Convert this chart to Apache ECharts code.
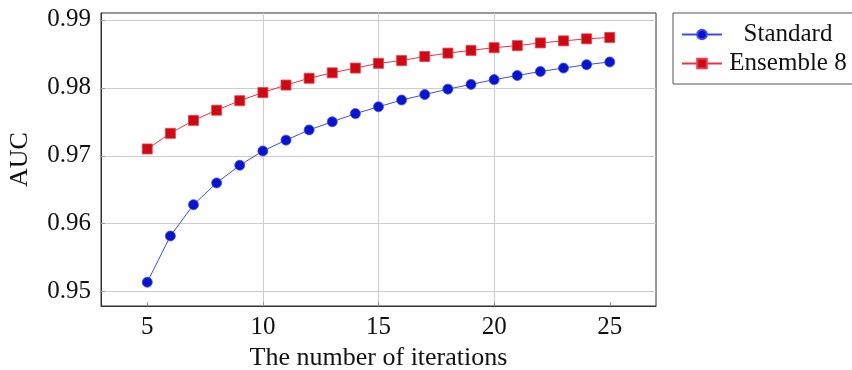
<!DOCTYPE html>
<html>
<head>
<meta charset="utf-8">
<script src="https://cdn.jsdelivr.net/npm/echarts@6/dist/echarts.min.js"></script>
<style>
  html, body { margin: 0; padding: 0; background: #fff; }
  #chart { width: 852px; height: 370px; }
</style>
</head>
<body>
<div id="chart"></div>
<script>
// iterations on the x axis
const iterations = [5, 6, 7, 8, 9, 10, 11, 12, 13, 14, 15, 16, 17, 18, 19, 20, 21, 22, 23, 24, 25];
const standardAuc = [0.9514, 0.9582, 0.9628, 0.9660, 0.9686, 0.9707, 0.9723, 0.9738, 0.9750, 0.9762, 0.9772,
                     0.9782, 0.9790, 0.9798, 0.9805, 0.9812, 0.9818, 0.9824, 0.9829, 0.9834, 0.9838];
const ensembleAuc = [0.9710, 0.9733, 0.9752, 0.9767, 0.9781, 0.9793, 0.9804, 0.9814, 0.9822, 0.9829, 0.9836,
                     0.9840, 0.9846, 0.9851, 0.9855, 0.9859, 0.9862, 0.9866, 0.9869, 0.9872, 0.9874];
const xTicks = [5, 10, 15, 20, 25];
const yTicks = [0.95, 0.96, 0.97, 0.98, 0.99];

const font = 'Liberation Serif';

const pairs = (xs, ys) => xs.map((x, i) => [x, ys[i]]);

const chart = echarts.init(document.getElementById('chart'), null, { renderer: 'canvas' });

chart.setOption({
  animation: false,
  backgroundColor: '#fff',
  grid: {
    left: 101, top: 13, right: 196, bottom: 64,
    containLabel: false,
    outerBoundsMode: 'none',
    show: true, borderColor: '#333', borderWidth: 1, backgroundColor: 'transparent'
  },
  xAxis: {
    type: 'value',
    min: 3, max: 27, interval: 1,
    name: 'The number of iterations',
    nameLocation: 'middle',
    nameGap: 38,
    nameTextStyle: { fontFamily: font, fontSize: 26, color: '#111' },
    axisLine: { show: true, onZero: false, lineStyle: { color: '#333', width: 1 } },
    axisTick: { show: true, inside: true, length: 4, lineStyle: { color: '#999' },
                customValues: xTicks },
    axisLabel: { fontFamily: font, fontSize: 25, color: '#111', margin: 9,
                 customValues: xTicks },
    splitLine: { show: true, lineStyle: { color: '#cccccc', width: 1 } ,
                 showMinLine: false, showMaxLine: false },
    minorSplitLine: { show: false }
  },
  yAxis: {
    type: 'value',
    min: 0.9479, max: 0.9910,
    name: 'AUC',
    nameLocation: 'middle',
    nameGap: 68,
    nameTextStyle: { fontFamily: font, fontSize: 26, color: '#111' },
    axisLine: { show: true, onZero: false, lineStyle: { color: '#333', width: 1 } },
    axisTick: { show: true, inside: true, length: 4, lineStyle: { color: '#999' },
                customValues: yTicks },
    axisLabel: { fontFamily: font, fontSize: 25, color: '#111', margin: 10,
                 customValues: yTicks, formatter: v => v.toFixed(2) },
    splitLine: { show: true, lineStyle: { color: '#cccccc', width: 1 } }
  },
  legend: {
    orient: 'vertical',
    left: 673, top: 13,
    padding: [9, 4, 8, 8],
    itemGap: 4,
    itemWidth: 40, itemHeight: 12,
    borderColor: '#555', borderWidth: 1,
    backgroundColor: '#fff',
    formatter: name => '{c|' + name + '}',
    textStyle: {
      fontFamily: font, fontSize: 25, color: '#111',
      rich: { c: { width: 122, align: 'center', fontFamily: font, fontSize: 25, lineHeight: 25, color: '#111' } }
    },
    data: ['Standard', 'Ensemble 8']
  },
  series: [
    {
      name: 'Standard',
      type: 'line',
      data: pairs(iterations, standardAuc),
      symbol: 'circle', symbolSize: 10,
      lineStyle: { color: '#3a4cf0', width: 1 },
      itemStyle: { color: '#0a14cc', borderColor: '#3a4cf0', borderWidth: 0.8 },
      z: 3
    },
    {
      name: 'Ensemble 8',
      type: 'line',
      data: pairs(iterations, ensembleAuc),
      symbol: 'rect', symbolSize: 10,
      lineStyle: { color: '#f03040', width: 1 },
      itemStyle: { color: '#cc0a14', borderColor: '#f03a4a', borderWidth: 0.8 },
      z: 4
    }
  ]
});
</script>
</body>
</html>
